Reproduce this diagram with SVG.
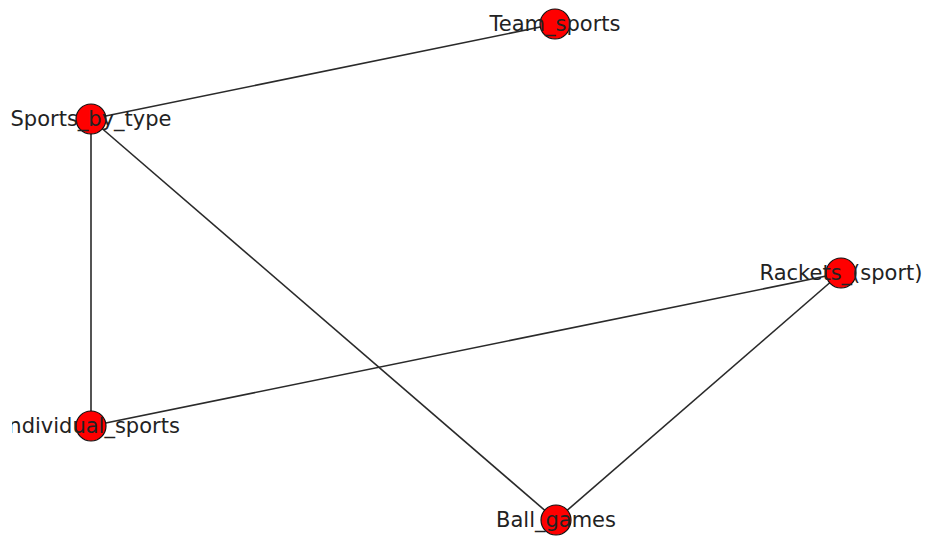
<svg xmlns="http://www.w3.org/2000/svg" width="926" height="537" viewBox="0 0 926 537">
  <style>
    .edge { stroke: #2a2a2a; stroke-width: 1.6; fill: none; }
    .node circle { fill: #ff0000; stroke: #111; stroke-width: 1.2; }
    .node text { font-family: "DejaVu Sans", sans-serif; font-size: 21px; fill: #222; text-anchor: middle; dominant-baseline: central; }
  </style>
  <defs>
    <!-- plot area: labels are cut at its left edge -->
    <clipPath id="plot-area">
      <rect x="12" y="0" width="914" height="537"/>
    </clipPath>
  </defs>
  <rect width="926" height="537" fill="#ffffff"/>
  <g id="edges">
    <line class="edge" x1="91" y1="119" x2="555" y2="24"/>
    <line class="edge" x1="91" y1="119" x2="91" y2="426"/>
    <line class="edge" x1="91" y1="119" x2="556" y2="520"/>
    <line class="edge" x1="91" y1="426" x2="841" y2="273"/>
    <line class="edge" x1="841" y1="273" x2="556" y2="520"/>
  </g>
  <g id="node-team-sports" class="node">
    <circle cx="555" cy="24" r="15"/>
    <text x="555" y="24">Team_sports</text>
  </g>
  <g id="node-sports-by-type" class="node">
    <circle cx="91" cy="119" r="15"/>
    <text x="91" y="119">Sports_by_type</text>
  </g>
  <g id="node-rackets" class="node">
    <circle cx="841" cy="273" r="15"/>
    <text x="841" y="273">Rackets_(sport)</text>
  </g>
  <g id="node-individual-sports" class="node">
    <circle cx="91" cy="426" r="15"/>
    <text x="91" y="426" clip-path="url(#plot-area)">Individual_sports</text>
  </g>
  <g id="node-ball-games" class="node">
    <circle cx="556" cy="520" r="15"/>
    <text x="556" y="520">Ball_games</text>
  </g>
</svg>
